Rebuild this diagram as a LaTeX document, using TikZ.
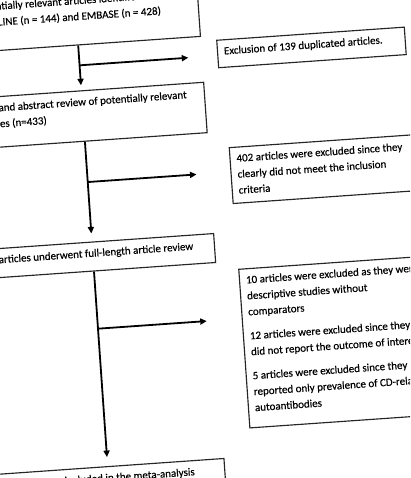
\documentclass[tikz,border=0pt]{standalone}
\usepackage{fontspec}
\setmainfont{Carlito}[FakeBold=0.4]
\usetikzlibrary{arrows.meta,calc}
\newcommand{\tbx}[4][0pt]{\hspace*{#1}\parbox[t][#3][t]{#2}{\fontsize{11}{16}\selectfont\strut #4}\hspace*{-#1}}
\newcommand{\tbv}[5]{\hspace*{#1}\parbox[t][#4][t]{#3}{\vspace*{#2}\fontsize{11}{16}\selectfont\strut #5}\hspace*{-#1}}
\newcommand{\oneline}[1]{\mbox{#1}}
\begin{document}
\begin{tikzpicture}[x=1pt,y=1pt,
  fbox/.style={draw=black!85, line width=1.15pt, inner xsep=6.5pt, inner ysep=3.5pt, anchor=north west, align=left},
  arr/.style={line width=1.8pt, -{Triangle[length=6.5pt,width=6pt]}}]
\useasboundingbox (0,-478) rectangle (410,0);
\clip (0,-478) rectangle (410,0);
\begin{scope}[shift={(205,-239)}, rotate=4, transform shape]
\node[fbox] (b1) at (-223,261) {\tbv{3pt}{2.5pt}{219pt}{51pt}{\oneline{Potentially relevant articles identified from search}\\\oneline{MEDLINE (n = 144) and EMBASE (n = 428)}}};
\node[fbox] (b2) at (25,198) {\tbx{175pt}{20.5pt}{\oneline{Exclusion of 139 duplicated articles.}}};
\node[fbox] (b3) at (-223,157) {\tbx[-3pt]{219pt}{43.5pt}{\oneline{Title and abstract review of potentially relevant}\\\oneline{articles (n=433)}}};
\node[fbox] (b4) at (30,90) {\tbx{227pt}{49pt}{\oneline{402 articles were excluded since they}\\\oneline{clearly did not meet the inclusion}\\\oneline{criteria}}};
\node[fbox] (b5) at (-223,5.4) {\tbx[-5pt]{218.4pt}{22pt}{\oneline{31 articles underwent full-length article review}}};
\node[fbox] (b6) at (31,-32) {\tbx{227pt}{152pt}{\oneline{10 articles were excluded as they were}\\\oneline{descriptive studies without}\\\oneline{comparators}\\[8pt]\oneline{12 articles were excluded since they}\\\oneline{did not report the outcome of interest}\\[8pt]\oneline{5 articles were excluded since they}\\\oneline{reported only prevalence of CD-related}\\\oneline{autoantibodies}}};
\node[fbox] (b7) at (-223,-219.7) {\tbx[-8pt]{213pt}{33pt}{\oneline{4 studies were included in the meta-analysis}}};
\coordinate (j1) at (-113,182);
\coordinate (e1) at (-4,182);
\coordinate (j2) at (-113,65);
\coordinate (e2) at (-4,65);
\coordinate (j3) at (-113,-82);
\coordinate (e3) at (-4,-82);
\draw[arr, shorten >=5pt] ($(b1.south west)!(j1)!(b1.south east)$) -- ($(b3.north west)!(j1)!(b3.north east)$);
\draw[arr] (j1) -- (e1);
\draw[arr, shorten >=8pt] ($(b3.south west)!(j2)!(b3.south east)$) -- ($(b5.north west)!(j2)!(b5.north east)$);
\draw[arr] (j2) -- (e2);
\draw[arr, shorten >=9pt] ($(b5.south west)!(j3)!(b5.south east)$) -- ($(b7.north west)!(j3)!(b7.north east)$);
\draw[arr] (j3) -- (e3);
\end{scope}
\end{tikzpicture}
\end{document}
